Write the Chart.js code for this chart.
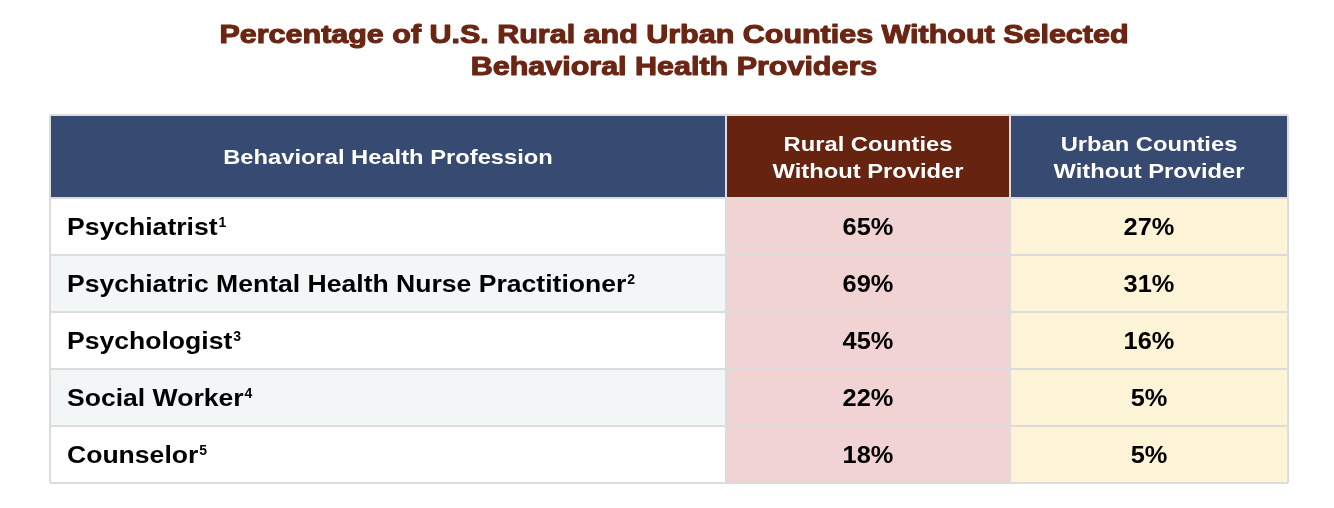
<!DOCTYPE html>
<html>
<head>
<meta charset="utf-8">
<script src="https://cdn.jsdelivr.net/npm/chart.js@4"></script>
<style>
  html, body { margin: 0; padding: 0; background: #fff; }
  #wrap { width: 1334px; height: 508px; position: relative; }
</style>
</head>
<body>
<div id="wrap"><canvas id="myChart"></canvas></div>
<script>
// table data
const titleLines = ['Percentage of U.S. Rural and Urban Counties Without Selected', 'Behavioral Health Providers'];
const headers = [['Behavioral Health Profession'], ['Rural Counties', 'Without Provider'], ['Urban Counties', 'Without Provider']];
const professions = ['Psychiatrist', 'Psychiatric Mental Health Nurse Practitioner', 'Psychologist', 'Social Worker', 'Counselor'];
const footnotes = ['1', '2', '3', '4', '5'];
const rural = [65, 69, 45, 22, 18];
const urban = [27, 31, 16, 5, 5];

// layout
const colEdges = [0, 676, 960, 1238];
const headerTop = 115;
const headerFill = ['#374a71', '#662310', '#374a71'];
const gridColor = '#dcdcdc';
const FONT = '"Liberation Sans", Arial, Helvetica, sans-serif';

const rowFill = professions.map((p, i) => i % 2 ? '#f3f6f7' : '#ffffff');

function span(col) {
    return professions.map(() => [colEdges[col], colEdges[col + 1]]);
}

// text drawn a bit wider, like the source's helvetica
function txt(ctx, s, x, y, align, sx, stroke) {
    ctx.save();
    ctx.translate(x, y);
    ctx.scale(sx, 1);
    ctx.textAlign = align;
    ctx.fillText(s, 0, 0);
    if (stroke) {
        ctx.strokeStyle = ctx.fillStyle;
        ctx.lineWidth = stroke;
        ctx.lineJoin = 'round';
        ctx.strokeText(s, 0, 0);
    }
    const w = ctx.measureText(s).width * sx;
    ctx.restore();
    return w;
}

const tablePlugin = {
    id: 'tablePlugin',
    afterDatasetsDraw(chart) {
        const ctx = chart.ctx;
        const area = chart.chartArea;
        const xs = chart.scales.x;
        const ys = chart.scales.y;
        ctx.save();
        ctx.textBaseline = 'middle';

        // title
        ctx.fillStyle = '#6b2513';
        ctx.font = 'bold 26.5px ' + FONT;
        titleLines.forEach((t, i) => txt(ctx, t, 674, 36 + i * 32, 'center', 1.15, 1.1));

        // header cells
        for (let c = 0; c < 3; c++) {
            const x0 = xs.getPixelForValue(colEdges[c]);
            const x1 = xs.getPixelForValue(colEdges[c + 1]);
            ctx.fillStyle = headerFill[c];
            ctx.fillRect(x0, headerTop, x1 - x0, area.top - headerTop);
            ctx.fillStyle = '#ffffff';
            ctx.font = 'bold 21px ' + FONT;
            const lines = headers[c];
            const mid = (headerTop + area.top) / 2;
            lines.forEach((l, i) => {
                txt(ctx, l, (x0 + x1) / 2, mid + 2 + (i - (lines.length - 1) / 2) * 27, 'center', 1.13);
            });
        }

        // body text
        const labelMeta = chart.getDatasetMeta(0);
        const ruralMeta = chart.getDatasetMeta(1);
        const urbanMeta = chart.getDatasetMeta(2);
        professions.forEach((name, i) => {
            const y = ys.getPixelForValue(i) + 2;
            ctx.fillStyle = '#000000';
            ctx.font = 'bold 23.5px ' + FONT;
            const lx = labelMeta.data[i].base + 17;
            const w = txt(ctx, name, lx, y, 'left', 1.13);
            ctx.font = 'bold 14px ' + FONT;
            txt(ctx, footnotes[i], lx + w + 1, y - 5, 'left', 1.0);

            ctx.font = 'bold 23.5px ' + FONT;
            const r = ruralMeta.data[i];
            txt(ctx, rural[i] + '%', (r.base + r.x) / 2, y, 'center', 1.08);
            const u = urbanMeta.data[i];
            txt(ctx, urban[i] + '%', (u.base + u.x) / 2, y, 'center', 1.08);
        });

        // grid lines
        ctx.strokeStyle = gridColor;
        ctx.lineWidth = 2;
        ctx.beginPath();
        for (let i = 0; i <= professions.length; i++) {
            const y = i === 0 ? area.top : ys.getPixelForValue(i - 0.5);
            ctx.moveTo(area.left, y);
            ctx.lineTo(area.right, y);
        }
        ctx.moveTo(area.left, headerTop);
        ctx.lineTo(area.right, headerTop);
        colEdges.forEach(v => {
            const x = xs.getPixelForValue(v);
            ctx.moveTo(x, headerTop);
            ctx.lineTo(x, area.bottom);
        });
        ctx.stroke();
        ctx.restore();
    }
};

function draw() {
    new Chart(document.getElementById('myChart'), {
        type: 'bar',
        data: {
            labels: professions,
            datasets: [
                { label: 'Behavioral Health Profession', data: span(0), backgroundColor: rowFill },
                { label: 'Rural Counties Without Provider', data: span(1), backgroundColor: '#f2d3d4' },
                { label: 'Urban Counties Without Provider', data: span(2), backgroundColor: '#fdf3d7' }
            ]
        },
        options: {
            indexAxis: 'y',
            responsive: true,
            maintainAspectRatio: false,
            animation: false,
            datasets: { bar: { grouped: false, barPercentage: 1, categoryPercentage: 1, borderWidth: 0 } },
            layout: { padding: { left: 50, right: 46, top: 198, bottom: 25 } },
            scales: {
                x: { type: 'linear', min: colEdges[0], max: colEdges[3], display: false },
                y: { type: 'category', display: false, offset: true }
            },
            plugins: { legend: { display: false }, tooltip: { enabled: false } }
        },
        plugins: [tablePlugin]
    });
}

document.fonts.load('bold 22px "Liberation Sans"').then(draw, draw);
</script>
</body>
</html>
